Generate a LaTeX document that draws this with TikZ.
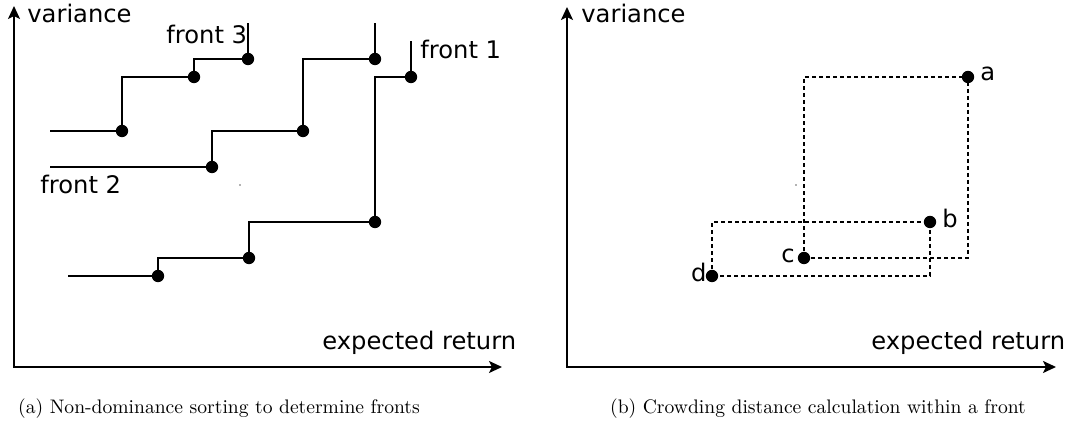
\documentclass[tikz,border=0pt]{standalone}
\usepackage{fontspec}
\setsansfont{DejaVu Sans}
\usetikzlibrary{arrows.meta}
\begin{document}
\begin{tikzpicture}[x=0.5pt,y=-0.5pt,
  axis/.style={line width=1pt,{Stealth[length=6.5pt,width=6pt,inset=1.5pt]}-{Stealth[length=6.5pt,width=6pt,inset=1.5pt]}},
  stepline/.style={line width=1pt},
  boxline/.style={line width=0.9pt,dash pattern=on 2pt off 1.5pt},
  dot/.style={circle,fill=black,inner sep=0pt,minimum size=6.2pt},
  lbl/.style={font=\sffamily\fontsize{12.1}{14}\selectfont,inner sep=0pt,anchor=base west},
  lble/.style={lbl,anchor=base east},
  captiontext/.style={font=\fontsize{9.8}{12}\selectfont,inner sep=0pt,anchor=base},
  speck/.style={circle,fill=black!60,inner sep=0pt,minimum size=0.8pt}]
\useasboundingbox (0,0) rectangle (1084,432);

% ---------- (a) non-dominated fronts ----------
\coordinate (O1) at (14,367);
\coordinate (Y1) at (14,6);
\coordinate (X1) at (502,367);
\draw[axis] (Y1) -- (O1) -- (X1);
\node[lbl] (v1) at (27,23) {variance};
\node[lbl] (e1) at (322,350) {expected return};

% front 3
\coordinate (s3) at (50,131);
\node[dot] (p31) at (122,131) {};
\node[dot] (p32) at (194,77) {};
\node[dot] (p33) at (248,59) {};
\coordinate (t3) at (248,23);
\draw[stepline] (s3) -- (p31.center) |- (p32.center) |- (p33.center) -- (t3);
\node[lbl] (f3) at (166,44) {front 3};

% front 2
\coordinate (s2) at (50,167);
\node[dot] (p21) at (212,167) {};
\node[dot] (p22) at (303,131) {};
\node[dot] (p23) at (375,59) {};
\coordinate (t2) at (375,23);
\draw[stepline] (s2) -- (p21.center) |- (p22.center) |- (p23.center) -- (t2);
\node[lbl] (f2) at (40,194) {front 2};

% front 1
\coordinate (s1) at (68,276);
\node[dot] (p11) at (158,276) {};
\node[dot] (p12) at (249,258) {};
\node[dot] (p13) at (375,222) {};
\node[dot] (p14) at (411,77) {};
\coordinate (t1) at (411,41);
\draw[stepline] (s1) -- (p11.center) |- (p12.center) |- (p13.center) |- (p14.center) -- (t1);
\node[lbl] (f1) at (420,59) {front 1};

\node[speck] (k1) at (240,185) {};

% ---------- (b) crowding distance ----------
\coordinate (O2) at (567,367);
\coordinate (Y2) at (567,7);
\coordinate (X2) at (1056,367);
\draw[axis] (Y2) -- (O2) -- (X2);
\node[lbl] (v2) at (581,23) {variance};
\node[lbl] (e2) at (871,350) {expected return};

\node[dot] (a) at (968,77) {};
\node[dot] (b) at (930,222) {};
\node[dot] (c) at (804,258) {};
\node[dot] (d) at (712,276) {};
\draw[boxline] (c.center) rectangle (a.center);
\draw[boxline] (d.center) rectangle (b.center);
\node[lbl] (la) at (980,81) {a};
\node[lbl] (lb) at (942,228) {b};
\node[lble] (lc) at (795,263) {c};
\node[lble] (ld) at (707,282) {d};

\node[speck] (k2) at (796,185) {};

% ---------- captions ----------
\node[captiontext] (capa) at (219,414) {(a) Non-dominance sorting to determine fronts};
\node[captiontext] (capb) at (818,414) {(b) Crowding distance calculation within a front};
\end{tikzpicture}
\end{document}
